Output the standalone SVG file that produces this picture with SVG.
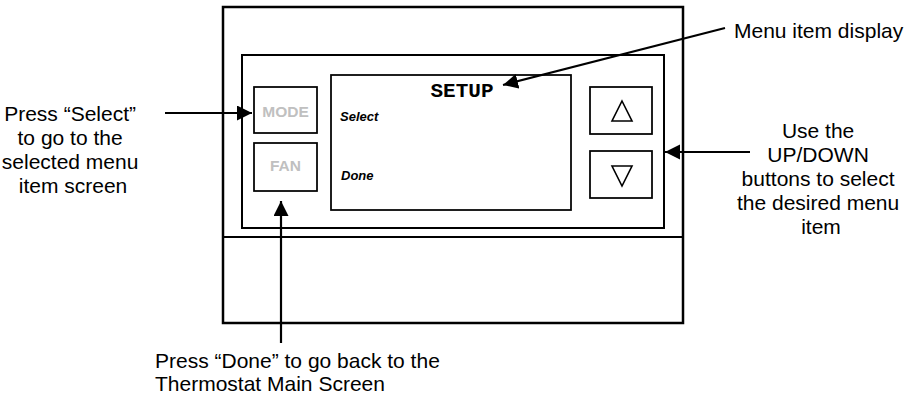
<svg xmlns="http://www.w3.org/2000/svg" width="916" height="394" viewBox="0 0 916 394">
<defs>
<marker id="ah" markerUnits="userSpaceOnUse" markerWidth="16" markerHeight="16" refX="15" refY="7.5" orient="auto">
<path d="M0,0 L15,7.5 L0,15 Z" fill="#000"/>
</marker>
<style>
.frame{fill:#fff;stroke:#000;stroke-width:2.5}
.panel{fill:none;stroke:#000;stroke-width:2}
.btn{fill:#fff;stroke:#000;stroke-width:1.75}
.tri{fill:#fff;stroke:#000;stroke-width:1.6;stroke-linejoin:miter}
.conn{stroke:#000;stroke-width:2.2;fill:none;marker-end:url(#ah)}
.lbl{font-family:"Liberation Sans",Arial,sans-serif;font-size:21px;fill:#000}
.btxt{font-family:"Liberation Sans",Arial,sans-serif;font-size:15.5px;font-weight:bold;fill:#c0c0c0;text-anchor:middle}
.scr{font-family:"Liberation Sans",Arial,sans-serif;font-size:13px;font-weight:bold;font-style:italic;fill:#000}
.mono{font-family:"Liberation Mono","Courier New",monospace;font-size:21px;font-weight:bold;fill:#000;text-anchor:middle}
</style>
</defs>
<rect width="916" height="394" fill="#fff"/>
<g id="thermostat">
<rect class="frame" x="223" y="7" width="460" height="316"/>
<line x1="223" y1="237" x2="683" y2="237" stroke="#000" stroke-width="2"/>
<rect class="panel" x="242" y="55" width="422" height="173"/>
</g>
<g id="mode-button">
<rect class="btn" x="254" y="87" width="63" height="46"/>
<text class="btxt" x="285.5" y="116.5">MODE</text>
</g>
<g id="fan-button">
<rect class="btn" x="254" y="143" width="63" height="48"/>
<text class="btxt" x="285.5" y="170.5">FAN</text>
</g>
<g id="screen">
<rect class="btn" x="331" y="75" width="240" height="135"/>
<text class="mono" x="462" y="96.5">SETUP</text>
<text class="scr" x="340" y="121">Select</text>
<text class="scr" x="341" y="180">Done</text>
</g>
<g id="up-button">
<rect class="btn" x="590" y="87" width="62" height="47"/>
<polygon class="tri" points="622,101 632,121 612,121"/>
</g>
<g id="down-button">
<rect class="btn" x="590" y="151" width="62" height="47"/>
<polygon class="tri" points="612,166 632,166 622,186"/>
</g>
<g id="connectors">
<line class="conn" x1="165" y1="113" x2="252" y2="113"/>
<line class="conn" x1="281" y1="343" x2="281" y2="201"/>
<line class="conn" x1="725" y1="28" x2="503" y2="85"/>
<line class="conn" x1="750" y1="152" x2="665" y2="152"/>
</g>
<g id="label-select">
<text class="lbl" text-anchor="middle">
<tspan x="73" y="121">Press “Select”</tspan>
<tspan x="73" y="145">to go to the</tspan>
<tspan x="73" y="169">selected menu</tspan>
<tspan x="73" y="193">item screen</tspan>
</text>
</g>
<g id="label-menu">
<text class="lbl" x="734" y="38">Menu item display</text>
</g>
<g id="label-updown">
<text class="lbl" text-anchor="middle">
<tspan x="821" y="138">Use the</tspan>
<tspan x="821" y="162">UP/DOWN</tspan>
<tspan x="821" y="186">buttons to select</tspan>
<tspan x="821" y="210">the desired menu</tspan>
<tspan x="821" y="234">item</tspan>
</text>
</g>
<g id="label-done">
<text class="lbl">
<tspan x="155" y="368">Press “Done” to go back to the</tspan>
<tspan x="155" y="391">Thermostat Main Screen</tspan>
</text>
</g>
</svg>
